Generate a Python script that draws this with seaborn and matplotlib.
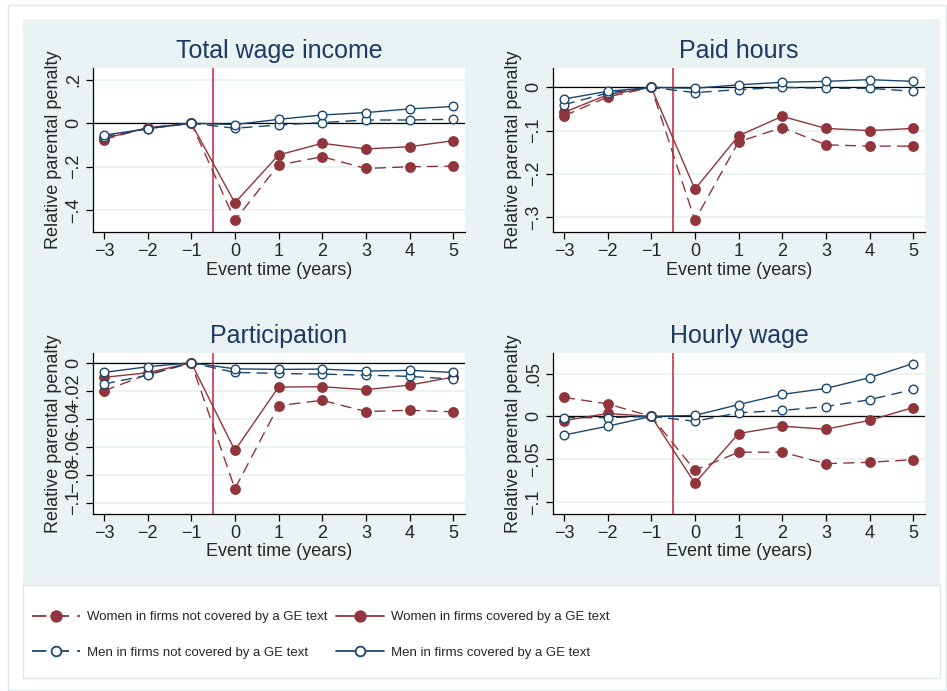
import numpy as np
import pandas as pd
import matplotlib
matplotlib.use("Agg")
import matplotlib.pyplot as plt
from matplotlib.patches import Rectangle
from matplotlib.lines import Line2D
import seaborn as sns

# ---- data ----
event = [-3, -2, -1, 0, 1, 2, 3, 4, 5]

titles = ["Total wage income", "Paid hours", "Participation", "Hourly wage"]

wage_w_nc = [-0.075, -0.020, 0, -0.446, -0.192, -0.154, -0.208, -0.200, -0.197]
wage_w_c = [-0.070, -0.022, 0, -0.366, -0.146, -0.092, -0.118, -0.108, -0.080]
wage_m_nc = [-0.062, -0.025, 0, -0.023, -0.008, 0.003, 0.015, 0.015, 0.018]
wage_m_c = [-0.055, -0.025, 0, -0.006, 0.018, 0.038, 0.049, 0.066, 0.077]

hours_w_nc = [-0.066, -0.022, 0, -0.308, -0.126, -0.093, -0.133, -0.136, -0.136]
hours_w_c = [-0.058, -0.017, 0, -0.236, -0.112, -0.067, -0.095, -0.100, -0.095]
hours_m_nc = [-0.040, -0.013, 0, -0.012, -0.005, 0.000, -0.002, -0.002, -0.009]
hours_m_c = [-0.027, -0.009, 0, -0.002, 0.006, 0.012, 0.014, 0.018, 0.014]

part_w_nc = [-0.0200, -0.0083, 0, -0.0900, -0.0306, -0.0268, -0.0348, -0.0339, -0.0350]
part_w_c = [-0.0104, -0.0071, 0, -0.0626, -0.0173, -0.0171, -0.0192, -0.0159, -0.0102]
part_m_nc = [-0.0152, -0.0088, 0, -0.0069, -0.0076, -0.0081, -0.0088, -0.0097, -0.0116]
part_m_c = [-0.0069, -0.0028, 0, -0.0043, -0.0047, -0.0045, -0.0059, -0.0054, -0.0069]

hw_w_nc = [0.0222, 0.0146, 0, -0.0630, -0.0418, -0.0418, -0.0552, -0.0536, -0.0506]
hw_w_c = [-0.0050, 0.0034, 0, -0.0780, -0.0200, -0.0115, -0.0150, -0.0046, 0.0103]
hw_m_nc = [-0.0015, -0.0015, 0, -0.0057, 0.0042, 0.0069, 0.0115, 0.0195, 0.0314]
hw_m_c = [-0.0218, -0.0115, 0, 0.0011, 0.0138, 0.0257, 0.0326, 0.0452, 0.0617]

yticks = [
    [-0.4, -0.2, 0, 0.2],
    [-0.3, -0.2, -0.1, 0],
    [-0.1, -0.08, -0.06, -0.04, -0.02, 0],
    [-0.1, -0.05, 0, 0.05],
]
yticklabels = [
    ["\u2212.4", "\u2212.2", "0", ".2"],
    ["\u2212.3", "\u2212.2", "\u2212.1", "0"],
    ["\u2212.1", "\u2212.08", "\u2212.06", "\u2212.04", "\u2212.02", "0"],
    ["\u2212.1", "\u2212.05", "0", ".05"],
]
ylims = [(-0.50, 0.254), (-0.335, 0.045), (-0.108, 0.007), (-0.114, 0.074)]

series_labels = [
    "Women in firms not covered by a GE text",
    "Women in firms covered by a GE text",
    "Men in firms not covered by a GE text",
    "Men in firms covered by a GE text",
]

panels = [
    [wage_w_nc, wage_w_c, wage_m_nc, wage_m_c],
    [hours_w_nc, hours_w_c, hours_m_nc, hours_m_c],
    [part_w_nc, part_w_c, part_m_nc, part_m_c],
    [hw_w_nc, hw_w_c, hw_m_nc, hw_m_c],
]

# ---- style ----
sns.set_theme(style="white")
plt.rcParams["font.family"] = ["Liberation Sans", "DejaVu Sans"]

MAROON = "#90353b"
NAVY = "#1a476f"
BG = "#eaf2f3"
RED = "#cc1f3c"
DASH = (0, (8, 4.5))

styles = [
    dict(color=MAROON, linestyle=DASH, mfc=MAROON, mec=MAROON, ms=6.8),
    dict(color=MAROON, linestyle="-", mfc=MAROON, mec=MAROON, ms=6.8),
    dict(color=NAVY, linestyle=DASH, mfc="white", mec=NAVY, ms=6.2),
    dict(color=NAVY, linestyle="-", mfc="white", mec=NAVY, ms=6.2),
]

W, H = 947, 691
fig = plt.figure(figsize=(W / 100, H / 100), dpi=100)
fig.patch.set_facecolor("white")


def fx(px):
    return px / W


def fy(py):
    return 1 - py / H


# outer frame, light-blue graph region, white legend box
fig.patches.append(Rectangle((fx(8), fy(690)), fx(938), 685 / H, transform=fig.transFigure,
                             facecolor="white", edgecolor="#dfe8ea", lw=1.0, zorder=-3))
fig.patches.append(Rectangle((fx(23), fy(585)), fx(917), 566 / H, transform=fig.transFigure,
                             facecolor=BG, edgecolor="none", zorder=-2))
fig.patches.append(Rectangle((fx(23), fy(678)), fx(917), 93 / H, transform=fig.transFigure,
                             facecolor="white", edgecolor="#dfe8ea", lw=1.0, zorder=-2))

boxes = [(93, 68, 465, 232), (553, 68, 925, 232), (93, 353, 465, 514), (553, 353, 925, 514)]

for i, (x0, y0, x1, y1) in enumerate(boxes):
    ax = fig.add_axes([fx(x0), fy(y1), fx(x1 - x0), (y1 - y0) / H])
    ax.set_facecolor("white")
    ax.set_xlim(-3.25, 5.27)
    ax.set_ylim(*ylims[i])
    ax.set_yticks(yticks[i])
    ax.set_yticklabels(yticklabels[i], rotation=90, va="center")
    ax.set_xticks(event)
    ax.set_xticklabels([str(e).replace("-", "\u2212") for e in event])
    ax.grid(axis="y", color=BG, lw=1.4)
    ax.grid(axis="x", visible=False)
    ax.axhline(0, color="black", lw=0.9, zorder=1.5)
    ax.axvline(-0.5, color=RED, lw=1.1, zorder=1.5)

    for vals, st in zip(panels[i], styles):
        sns.lineplot(x=event, y=vals, ax=ax, errorbar=None, color=st["color"],
                     linestyle=st["linestyle"], lw=1.0, marker="o",
                     markersize=st["ms"], markerfacecolor=st["mfc"],
                     markeredgecolor=st["mec"], markeredgewidth=1.0, zorder=3)

    for side in ["top", "right"]:
        ax.spines[side].set_visible(False)
    for side in ["left", "bottom"]:
        ax.spines[side].set_color("black")
        ax.spines[side].set_linewidth(0.9)
    ax.tick_params(axis="both", direction="out", length=5, width=0.9, color="black",
                   labelsize=13, pad=3, left=True, bottom=True)
    ax.set_title(titles[i], fontsize=18, color="#1c3a64", pad=7)
    ax.set_xlabel("Event time (years)", fontsize=13, labelpad=1)
    ax.set_ylabel("Relative parental penalty", fontsize=13, labelpad=2)

# ---- legend ----
leg_size = 9.5
handles = [
    Line2D([], [], color=st["color"], linestyle=st["linestyle"], lw=1.3, marker="o",
           markersize=st["ms"] + 0.8, markerfacecolor=st["mfc"], markeredgecolor=st["mec"],
           markeredgewidth=1.3)
    for st in styles
]

for px, idx in [(32, [0, 2]), (336, [1, 3])]:
    fig.legend([handles[k] for k in idx], [series_labels[k] for k in idx],
               loc="upper left", bbox_to_anchor=(fx(px), fy(611)),
               frameon=False, fontsize=leg_size, handlelength=48 / (leg_size * 100 / 72),
               handletextpad=0.55, labelspacing=1.75, borderpad=0, borderaxespad=0)

fig.savefig("out.png", dpi=100)
